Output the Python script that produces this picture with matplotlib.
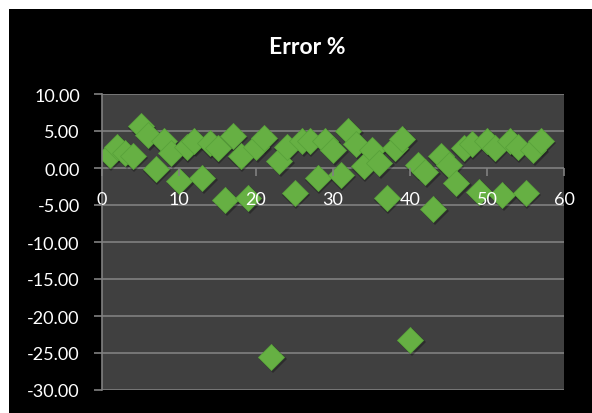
import matplotlib
matplotlib.use("Agg")
import matplotlib.pyplot as plt
import matplotlib.patches as mpatches
from matplotlib.ticker import FormatStrFormatter
from matplotlib.transforms import offset_copy

# error (%) per sample
sample = list(range(1, 58))
error_pct = [1.8, 2.9, 2.0, 1.6, 5.7, 4.5, -0.2, 3.6, 2.0, -1.8,
             2.9, 3.6, -1.4, 3.4, 2.7, -4.3, 4.3, 1.6, -4.1, 2.9,
             4.1, -25.5, 0.9, 2.9, -3.4, 3.6, 3.6, -1.4, 3.6, 2.4,
             -0.9, 5.0, 3.3, 0.3, 2.5, 0.7, -4.1, 2.7, 3.9, -23.2,
             0.4, -0.5, -5.5, 1.6, 0.4, -2.0, 2.7, 3.2, -3.2, 3.6,
             2.7, -3.6, 3.6, 2.9, -3.4, 2.5, 3.6]

x_ticks = [0, 10, 20, 30, 40, 50, 60]
y_ticks = [-30, -25, -20, -15, -10, -5, 0, 5, 10]

plt.rcParams['font.family'] = ['Lato', 'DejaVu Sans']

fig = plt.figure(figsize=(5.92, 4.14), dpi=100)
fig.patch.set_facecolor('white')

# black chart area, white margin on left and top
fig.patches.append(mpatches.Rectangle((9 / 592, 0), 1 - 9 / 592, 1 - 10 / 414,
                                      transform=fig.transFigure,
                                      facecolor='black', edgecolor='none', zorder=-5))

ax = fig.add_axes([102 / 592, 1 - 391 / 414, (564 - 102) / 592, (391 - 95) / 414])
ax.set_facecolor('#404040')

grid_col = '#808080'
for yv in y_ticks:
    ax.axhline(yv, color=grid_col, lw=1.2, zorder=0.5)

# soft shadow under each diamond
shadow = offset_copy(ax.transData, fig=fig, x=1.5, y=-2.0, units='dots')
ax.plot(sample, error_pct, linestyle='none', marker='D', markersize=14,
        color='black', alpha=0.3, markeredgewidth=0, transform=shadow, zorder=1)
ax.plot(sample, error_pct, linestyle='none', marker='D', markersize=13.5,
        markerfacecolor='#66B043', markeredgecolor='#58A23A',
        markeredgewidth=0.6, zorder=2)

ax.set_xlim(0, 60)
ax.set_ylim(-30, 10)
ax.set_xticks(x_ticks)
ax.set_yticks(y_ticks)
ax.yaxis.set_major_formatter(FormatStrFormatter('%.2f'))
ax.set_axisbelow(False)

for side in ['top', 'right']:
    ax.spines[side].set_visible(False)
ax.spines['bottom'].set_position(('data', 0))
ax.spines['bottom'].set_visible(False)
ax.spines['left'].set_color(grid_col)
ax.spines['left'].set_linewidth(1.2)

ax.tick_params(axis='y', direction='out', length=6, width=1.2, color=grid_col,
               labelcolor='white', labelsize=13, pad=10)
ax.tick_params(axis='x', direction='out', length=6, width=1.2, color=grid_col,
               labelcolor='white', labelsize=13, pad=10.5)

fig.text(307 / 592, 1 - 54 / 414, 'Error %', color='white', fontsize=16.5,
         fontweight='bold', ha='center', va='baseline')

fig.savefig('out.png', dpi=100, facecolor=fig.get_facecolor())
